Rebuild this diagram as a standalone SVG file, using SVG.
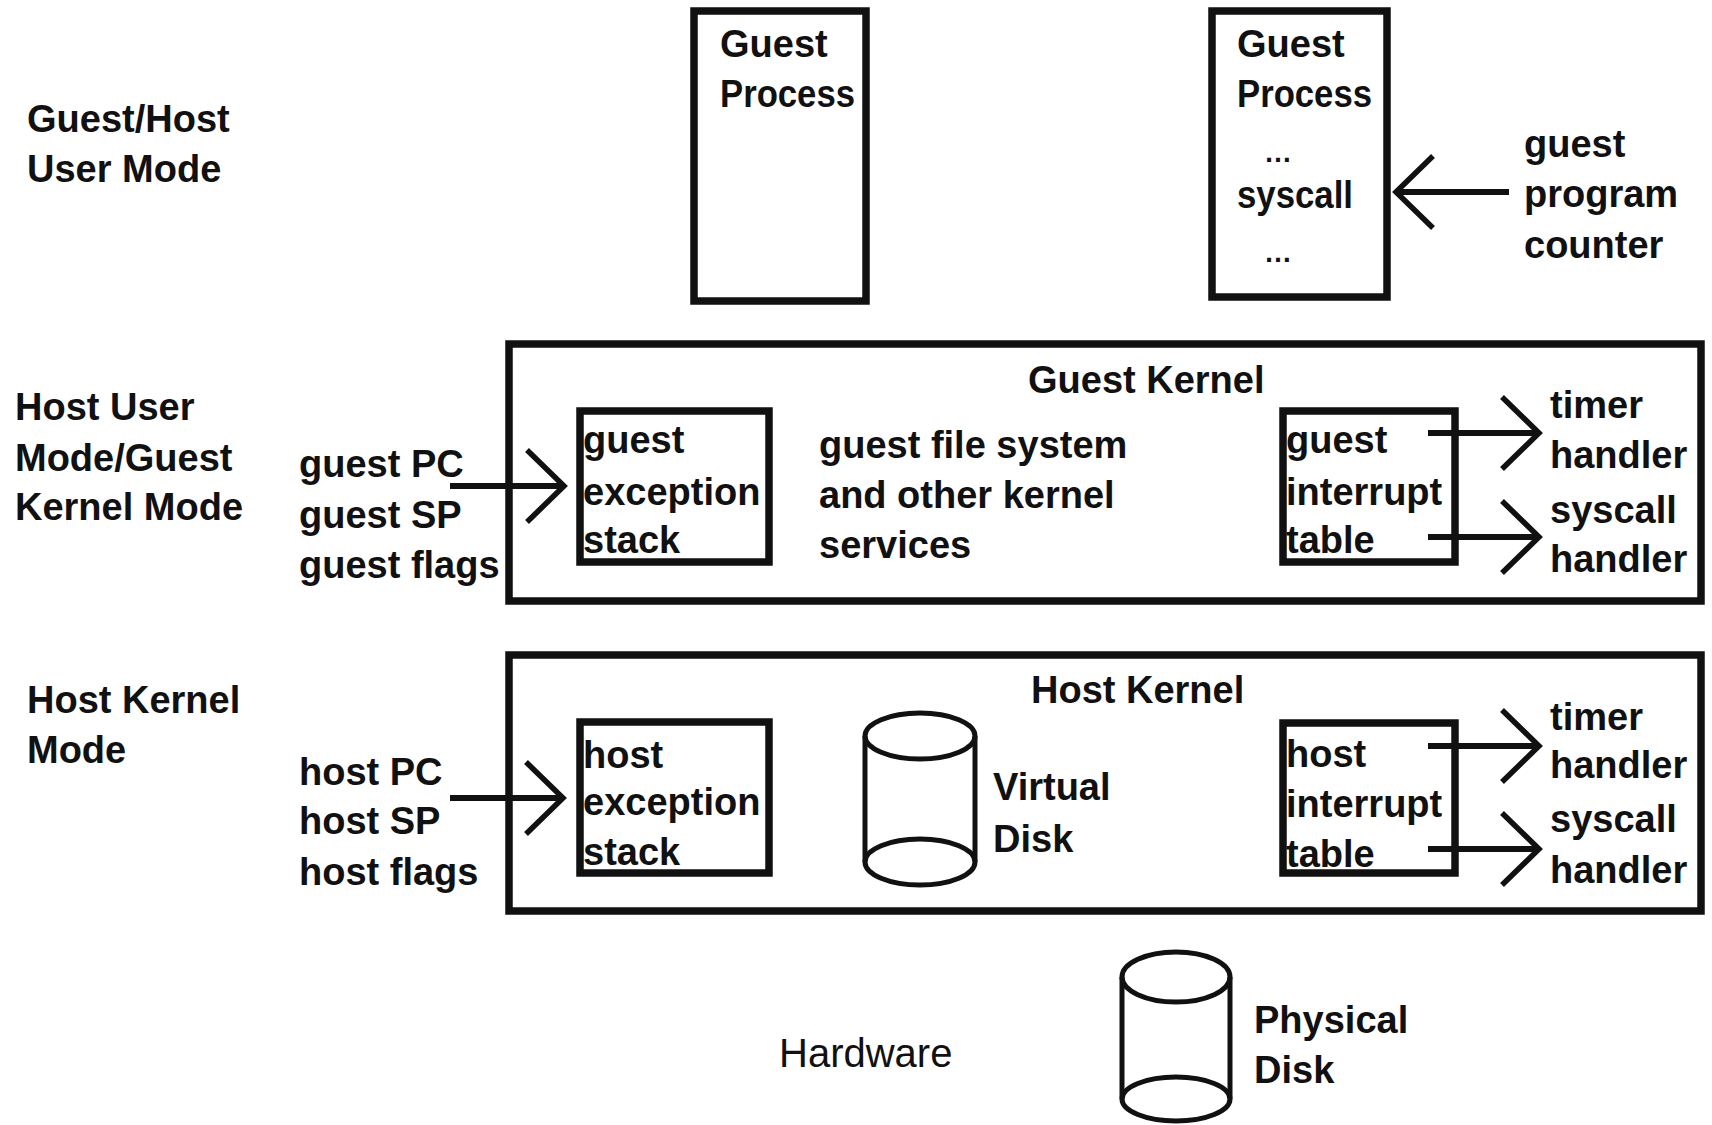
<svg xmlns="http://www.w3.org/2000/svg" width="1712" height="1125" viewBox="0 0 1712 1125">
  <style>
    text { font-family: "Liberation Sans", Arial, sans-serif; font-weight: bold; font-size: 38px; fill: #111; }
    .light { font-weight: normal; font-size: 40px; }
    .dots { font-size: 28px; }
    .box { fill: none; stroke: #111; stroke-width: 7.5; }
    .disk { fill: none; stroke: #111; stroke-width: 5; }
    .conn { fill: none; stroke: #111; stroke-width: 6; marker-end: url(#chevron); }
  </style>
  <defs>
    <marker id="chevron" markerUnits="userSpaceOnUse" viewBox="-42 -40 46 80" markerWidth="46" markerHeight="80" refX="0" refY="0" orient="auto">
      <path d="M -37 -36 L 0 0 L -37 36" fill="none" stroke="#111" stroke-width="5.5"/>
    </marker>
  </defs>
  <rect width="1712" height="1125" fill="#fff"/>

  <!-- privilege level labels -->
  <g id="mode-user">
    <text x="27" y="132">Guest/Host</text>
    <text x="27" y="182">User Mode</text>
  </g>
  <g id="mode-guest-kernel">
    <text x="15" y="420">Host User</text>
    <text x="15" y="471">Mode/Guest</text>
    <text x="15" y="520">Kernel Mode</text>
  </g>
  <g id="mode-host-kernel">
    <text x="27" y="713">Host Kernel</text>
    <text x="27" y="763">Mode</text>
  </g>
  <g id="hardware-label">
    <text class="light" x="779" y="1067">Hardware</text>
  </g>

  <!-- user level processes -->
  <g id="guest-process-1">
    <rect class="box" x="694" y="11" width="172" height="290"/>
    <text x="720" y="57">Guest</text>
    <text x="720" y="107" textLength="135" lengthAdjust="spacingAndGlyphs">Process</text>
  </g>
  <g id="guest-process-2">
    <rect class="box" x="1212" y="11" width="175" height="286"/>
    <text x="1237" y="57">Guest</text>
    <text x="1237" y="107" textLength="135" lengthAdjust="spacingAndGlyphs">Process</text>
    <text class="dots" x="1264" y="162">…</text>
    <text x="1237" y="208" textLength="116" lengthAdjust="spacingAndGlyphs">syscall</text>
    <text class="dots" x="1264" y="262">…</text>
  </g>
  <g id="guest-pc-label">
    <text x="1524" y="157">guest</text>
    <text x="1524" y="207">program</text>
    <text x="1524" y="258">counter</text>
  </g>

  <!-- guest kernel -->
  <g id="guest-kernel">
    <rect class="box" x="509" y="344" width="1192" height="257"/>
    <text x="1028" y="393">Guest Kernel</text>
    <text x="819" y="458">guest file system</text>
    <text x="819" y="508">and other kernel</text>
    <text x="819" y="558">services</text>
  </g>
  <g id="guest-regs">
    <text x="299" y="477">guest PC</text>
    <text x="299" y="528">guest SP</text>
    <text x="299" y="578">guest flags</text>
  </g>
  <g id="guest-exception-stack">
    <rect class="box" x="580" y="411" width="189" height="151"/>
    <text x="583" y="453">guest</text>
    <text x="583" y="505">exception</text>
    <text x="583" y="553">stack</text>
  </g>
  <g id="guest-interrupt-table">
    <rect class="box" x="1283" y="411" width="172" height="151"/>
    <text x="1286" y="453">guest</text>
    <text x="1286" y="505">interrupt</text>
    <text x="1286" y="553">table</text>
  </g>
  <g id="guest-handlers">
    <text x="1550" y="418">timer</text>
    <text x="1550" y="468">handler</text>
    <text x="1550" y="523">syscall</text>
    <text x="1550" y="572">handler</text>
  </g>

  <!-- host kernel -->
  <g id="host-kernel">
    <rect class="box" x="509" y="655" width="1192" height="256"/>
    <text x="1031" y="703">Host Kernel</text>
  </g>
  <g id="host-regs">
    <text x="299" y="785">host PC</text>
    <text x="299" y="834">host SP</text>
    <text x="299" y="885">host flags</text>
  </g>
  <g id="host-exception-stack">
    <rect class="box" x="580" y="722" width="189" height="151"/>
    <text x="583" y="768">host</text>
    <text x="583" y="815">exception</text>
    <text x="583" y="865">stack</text>
  </g>
  <g id="virtual-disk">
    <ellipse class="disk" cx="920" cy="736" rx="55" ry="23"/>
    <ellipse class="disk" cx="920" cy="862" rx="55" ry="23"/>
    <line class="disk" x1="865" y1="736" x2="865" y2="862"/>
    <line class="disk" x1="975" y1="736" x2="975" y2="862"/>
    <text x="993" y="800">Virtual</text>
    <text x="993" y="852">Disk</text>
  </g>
  <g id="host-interrupt-table">
    <rect class="box" x="1283" y="723" width="172" height="150"/>
    <text x="1286" y="767">host</text>
    <text x="1286" y="817">interrupt</text>
    <text x="1286" y="867">table</text>
  </g>
  <g id="host-handlers">
    <text x="1550" y="730">timer</text>
    <text x="1550" y="778">handler</text>
    <text x="1550" y="832">syscall</text>
    <text x="1550" y="883">handler</text>
  </g>

  <!-- hardware -->
  <g id="physical-disk">
    <ellipse class="disk" cx="1176" cy="977" rx="54" ry="25"/>
    <ellipse class="disk" cx="1176" cy="1099" rx="54" ry="22"/>
    <line class="disk" x1="1122" y1="977" x2="1122" y2="1099"/>
    <line class="disk" x1="1230" y1="977" x2="1230" y2="1099"/>
    <text x="1254" y="1033">Physical</text>
    <text x="1254" y="1083">Disk</text>
  </g>

  <!-- connectors -->
  <g id="connectors">
    <line class="conn" x1="1509" y1="192" x2="1396" y2="192"/>
    <line class="conn" x1="450" y1="486" x2="564" y2="486"/>
    <line class="conn" x1="1428" y1="433" x2="1539" y2="433"/>
    <line class="conn" x1="1428" y1="537" x2="1539" y2="537"/>
    <line class="conn" x1="450" y1="798" x2="563" y2="798"/>
    <line class="conn" x1="1428" y1="746" x2="1539" y2="746"/>
    <line class="conn" x1="1428" y1="849" x2="1539" y2="849"/>
  </g>
</svg>
